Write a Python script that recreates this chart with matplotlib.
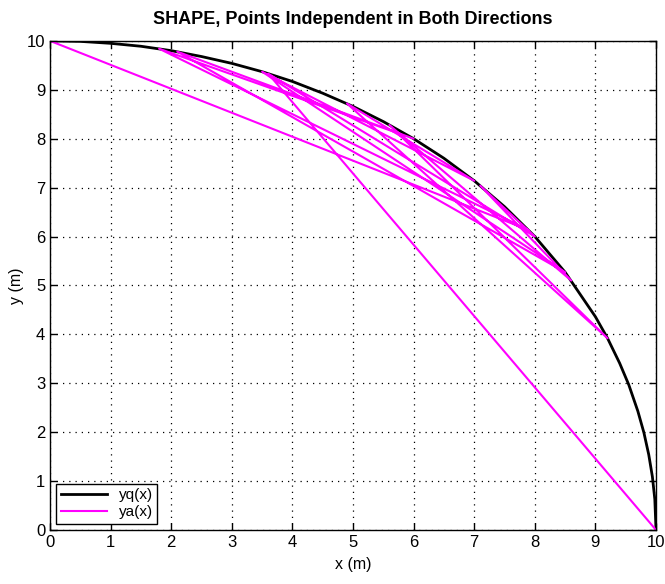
import matplotlib
matplotlib.use("Agg")
import matplotlib.pyplot as plt

# Reference curve yq(x) (quarter circle)
xq = [0.0, 0.5, 1.0, 1.5, 2.0, 2.5, 3.0, 3.5, 4.0, 4.5, 5.0, 5.5, 6.0, 6.5, 7.0,
      7.5, 8.0, 8.5, 9.0, 9.2, 9.4, 9.55, 9.7, 9.8, 9.88, 9.94, 9.98, 10.0]
yq = [10.0, 9.99, 9.95, 9.89, 9.80, 9.68, 9.54, 9.37, 9.17, 8.93, 8.66, 8.35,
      8.00, 7.60, 7.14, 6.61, 6.00, 5.27, 4.36, 3.92, 3.41, 2.97, 2.43, 1.99,
      1.54, 1.09, 0.63, 0.0]

# Approximation ya(x) path
xa = [0.0, 7.9, 1.8, 6.0, 2.1, 8.5, 3.5, 7.0, 4.9, 9.2, 5.6, 8.6, 7.1, 8.0, 3.6, 10.0]
ya = [10.0, 6.13, 9.84, 8.00, 9.78, 5.27, 9.37, 7.14, 8.72, 3.92, 8.28, 5.10, 7.04, 6.00, 9.33, 0.0]

xticks = [0, 1, 2, 3, 4, 5, 6, 7, 8, 9, 10]
yticks = [0, 1, 2, 3, 4, 5, 6, 7, 8, 9, 10]

plt.rcParams['font.family'] = ['Liberation Sans', 'DejaVu Sans']

fig = plt.figure(figsize=(6.65, 5.84), dpi=100)
ax = fig.add_axes([0.0752, 0.0925, 0.9113, 0.8375])

ax.plot(xq, yq, color='black', lw=2.0, label='yq(x)')
ax.plot(xa, ya, color='#ff00ff', lw=1.5, label='ya(x)')

ax.set_xlim(0, 10)
ax.set_ylim(0, 10)
ax.set_xticks(xticks)
ax.set_yticks(yticks)
ax.set_xticklabels([str(t) for t in xticks])
ax.set_yticklabels([str(t) for t in yticks])
ax.tick_params(direction='in', top=True, right=True, length=5, labelsize=12, width=1)
ax.grid(True, color='black', linestyle=(0, (1, 4)), linewidth=0.9)
for s in ax.spines.values():
    s.set_linewidth(1.0)

ax.set_xlabel('x (m)', fontsize=11.5, labelpad=5)
ax.set_ylabel('y (m)', fontsize=11.5, labelpad=2)
ax.set_title('SHAPE, Points Independent in Both Directions', fontsize=13,
             fontweight='bold', pad=12)

leg = ax.legend(loc='lower left', fontsize=11, frameon=True, fancybox=False,
                edgecolor='black', framealpha=1, borderaxespad=0.4,
                handlelength=3.0, borderpad=0.3, labelspacing=0.2)
leg.get_frame().set_linewidth(1.0)

fig.savefig('out.png', dpi=100)
